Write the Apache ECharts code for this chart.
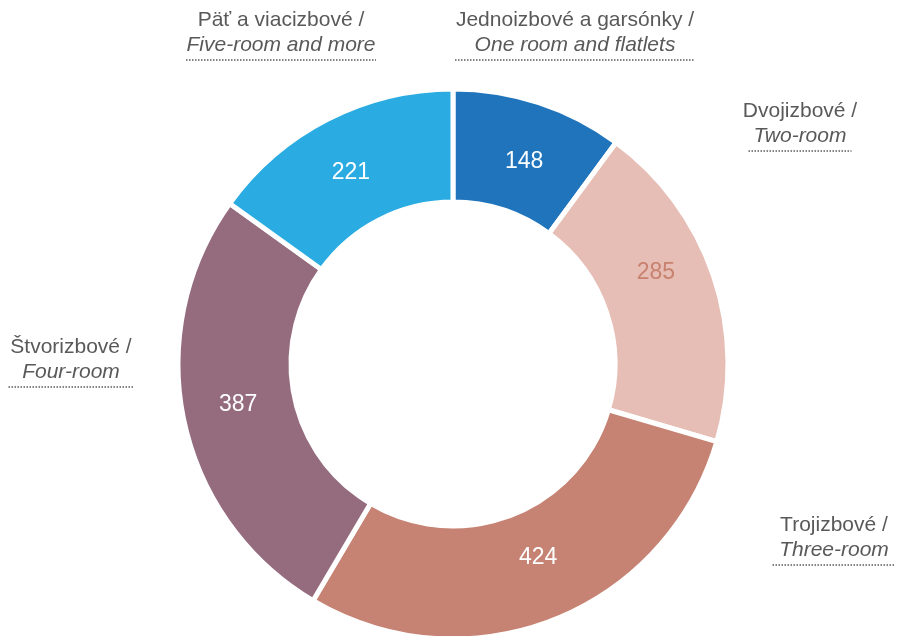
<!DOCTYPE html>
<html>
<head>
<meta charset="utf-8">
<script src="https://cdn.jsdelivr.net/npm/echarts@6/dist/echarts.min.js"></script>
<style>
  html, body { margin: 0; padding: 0; background: #fff; }
  #chart { width: 897px; height: 636px; }
</style>
</head>
<body>
<div id="chart"></div>
<script>
// data
var categoriesSk = ['Jednoizbové a garsónky /', 'Dvojizbové /', 'Trojizbové /', 'Štvorizbové /', 'Päť a viacizbové /'];
var categoriesEn = ['One room and flatlets', 'Two-room', 'Three-room', 'Four-room', 'Five-room and more'];
var values = [148, 285, 424, 387, 221];

// styles
var colors = ['#1f74bc', '#e6beb5', '#c68373', '#956c7e', '#2aace2'];
var valueColors = ['#ffffff', '#c8806f', '#ffffff', '#ffffff', '#ffffff'];
var valueOffsets = [[2, 8], [-7, -21], [4, -12], [2, -5], [-1, 6]];
// label anchor (center x, top y) and underline width for each category
var labelSpots = [[575, 8, 240], [800, 99, 103], [834, 513, 123], [71, 335, 125], [281, 8, 190]];

var pieData = [];
for (var i = 0; i < values.length; i++) {
  pieData.push({
    name: categoriesSk[i] + ' ' + categoriesEn[i],
    value: values[i],
    itemStyle: { color: colors[i] },
    label: { color: valueColors[i], offset: valueOffsets[i] }
  });
}

var graphics = [];
for (var j = 0; j < labelSpots.length; j++) {
  var s = labelSpots[j];
  graphics.push({
    type: 'group',
    x: s[0],
    y: s[1],
    children: [
      {
        type: 'text',
        x: 0, y: 12,
        style: {
          text: categoriesSk[j],
          fill: '#595959',
          font: '21px "Liberation Sans", Arial, sans-serif',
          textAlign: 'center',
          textVerticalAlign: 'middle'
        }
      },
      {
        type: 'text',
        x: 0, y: 37,
        style: {
          text: categoriesEn[j],
          fill: '#595959',
          font: 'italic 21px "Liberation Sans", Arial, sans-serif',
          textAlign: 'center',
          textVerticalAlign: 'middle'
        }
      },
      {
        type: 'line',
        shape: { x1: -s[2] / 2, y1: 52, x2: s[2] / 2, y2: 52 },
        style: { stroke: '#595959', lineWidth: 1.5, lineDash: [1.5, 1.5] }
      }
    ]
  });
}

var myChart = echarts.init(document.getElementById('chart'), null, { renderer: 'canvas' });
myChart.setOption({
  animation: false,
  backgroundColor: '#ffffff',
  series: [{
    type: 'pie',
    center: [453, 364],
    radius: [162, 275],
    startAngle: 90,
    clockwise: true,
    avoidLabelOverlap: false,
    itemStyle: { borderColor: '#ffffff', borderWidth: 5 },
    label: {
      show: true,
      position: 'inside',
      formatter: '{c}',
      fontSize: 23,
      fontFamily: '"Liberation Sans", Arial, sans-serif'
    },
    labelLine: { show: false },
    emphasis: { disabled: true },
    data: pieData
  }],
  graphic: graphics
});
</script>
</body>
</html>
